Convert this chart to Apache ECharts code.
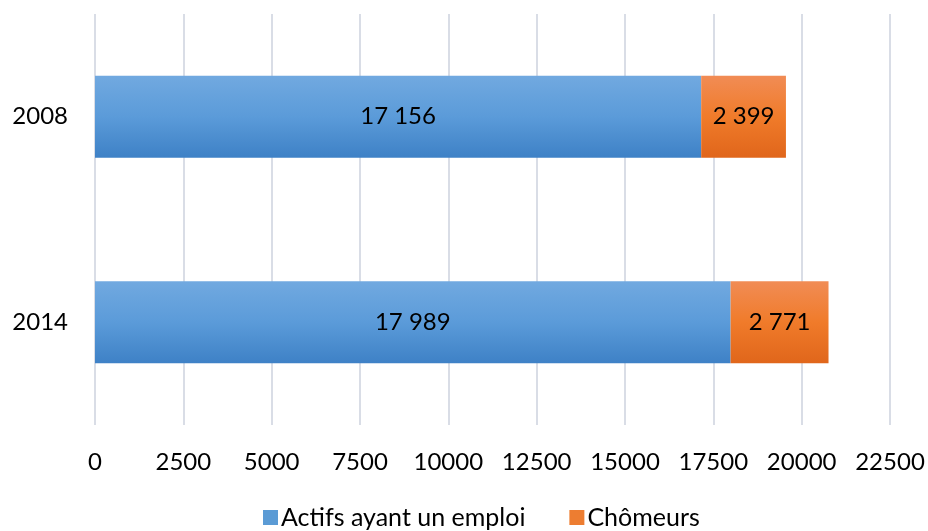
<!DOCTYPE html>
<html>
<head>
<meta charset="utf-8">
<script src="https://cdn.jsdelivr.net/npm/echarts@6/dist/echarts.min.js"></script>
<style>
  html, body { margin: 0; padding: 0; background: #fff; }
  #chart { width: 928px; height: 531px; }
</style>
</head>
<body>
<div id="chart"></div>
<script>
var years = ['2008', '2014'];
var actifs = [17156, 17989];
var chomeurs = [2399, 2771];
var seriesNames = ['Actifs ayant un emploi', 'Chômeurs'];

function fmt(v) {
    return String(v).replace(/\B(?=(\d{3})+(?!\d))/g, ' ');
}

function grad(top, mid, bottom) {
    return new echarts.graphic.LinearGradient(0, 0, 0, 1, [
        { offset: 0, color: top },
        { offset: 0.5, color: mid },
        { offset: 1, color: bottom }
    ]);
}

var font = 'Lato, "Open Sans", sans-serif';

var myChart = echarts.init(document.getElementById('chart'));
var option = {
    animation: false,
    textStyle: { fontFamily: font },
    grid: { left: 95, right: 38, top: 14, bottom: 106, containLabel: false },
    legend: {
        bottom: -4,
        left: 258,
        itemWidth: 15,
        itemHeight: 15,
        itemGap: 44,
        icon: 'rect',
        textStyle: { fontSize: 25, color: '#000', fontFamily: font, padding: [0, 0, 0, -2] },
        data: [
            { name: seriesNames[0], itemStyle: { color: '#5b9bd5' } },
            { name: seriesNames[1], itemStyle: { color: '#ed7d31' } }
        ]
    },
    xAxis: {
        type: 'value',
        min: 0,
        max: 22500,
        interval: 2500,
        axisLine: { show: false },
        axisTick: { show: false },
        axisLabel: { fontSize: 24, color: '#000', margin: 25, fontFamily: font,
            formatter: function (v) { return String(v); } },
        splitLine: { lineStyle: { color: '#d9dde6', width: 2 } }
    },
    yAxis: {
        type: 'category',
        data: years,
        inverse: true,
        axisLine: { show: false },
        axisTick: { show: false },
        axisLabel: { fontSize: 24, color: '#000', margin: 27, fontFamily: font }
    },
    series: [
        {
            name: seriesNames[0],
            type: 'bar',
            stack: 'total',
            barWidth: '40%',
            data: actifs,
            itemStyle: { color: grad('#71a9e0', '#5b9bd9', '#3e81c6') },
            label: {
                show: true, position: 'inside', fontSize: 24, color: '#000',
                fontFamily: font,
                formatter: function (p) { return fmt(p.value); }
            }
        },
        {
            name: seriesNames[1],
            type: 'bar',
            stack: 'total',
            barWidth: '40%',
            data: chomeurs,
            itemStyle: { color: grad('#f18c55', '#f07b2a', '#e0661b') },
            label: {
                show: true, position: 'inside', fontSize: 24, color: '#000',
                fontFamily: font,
                formatter: function (p) { return fmt(p.value); }
            }
        }
    ]
};
myChart.setOption(option);
</script>
</body>
</html>
